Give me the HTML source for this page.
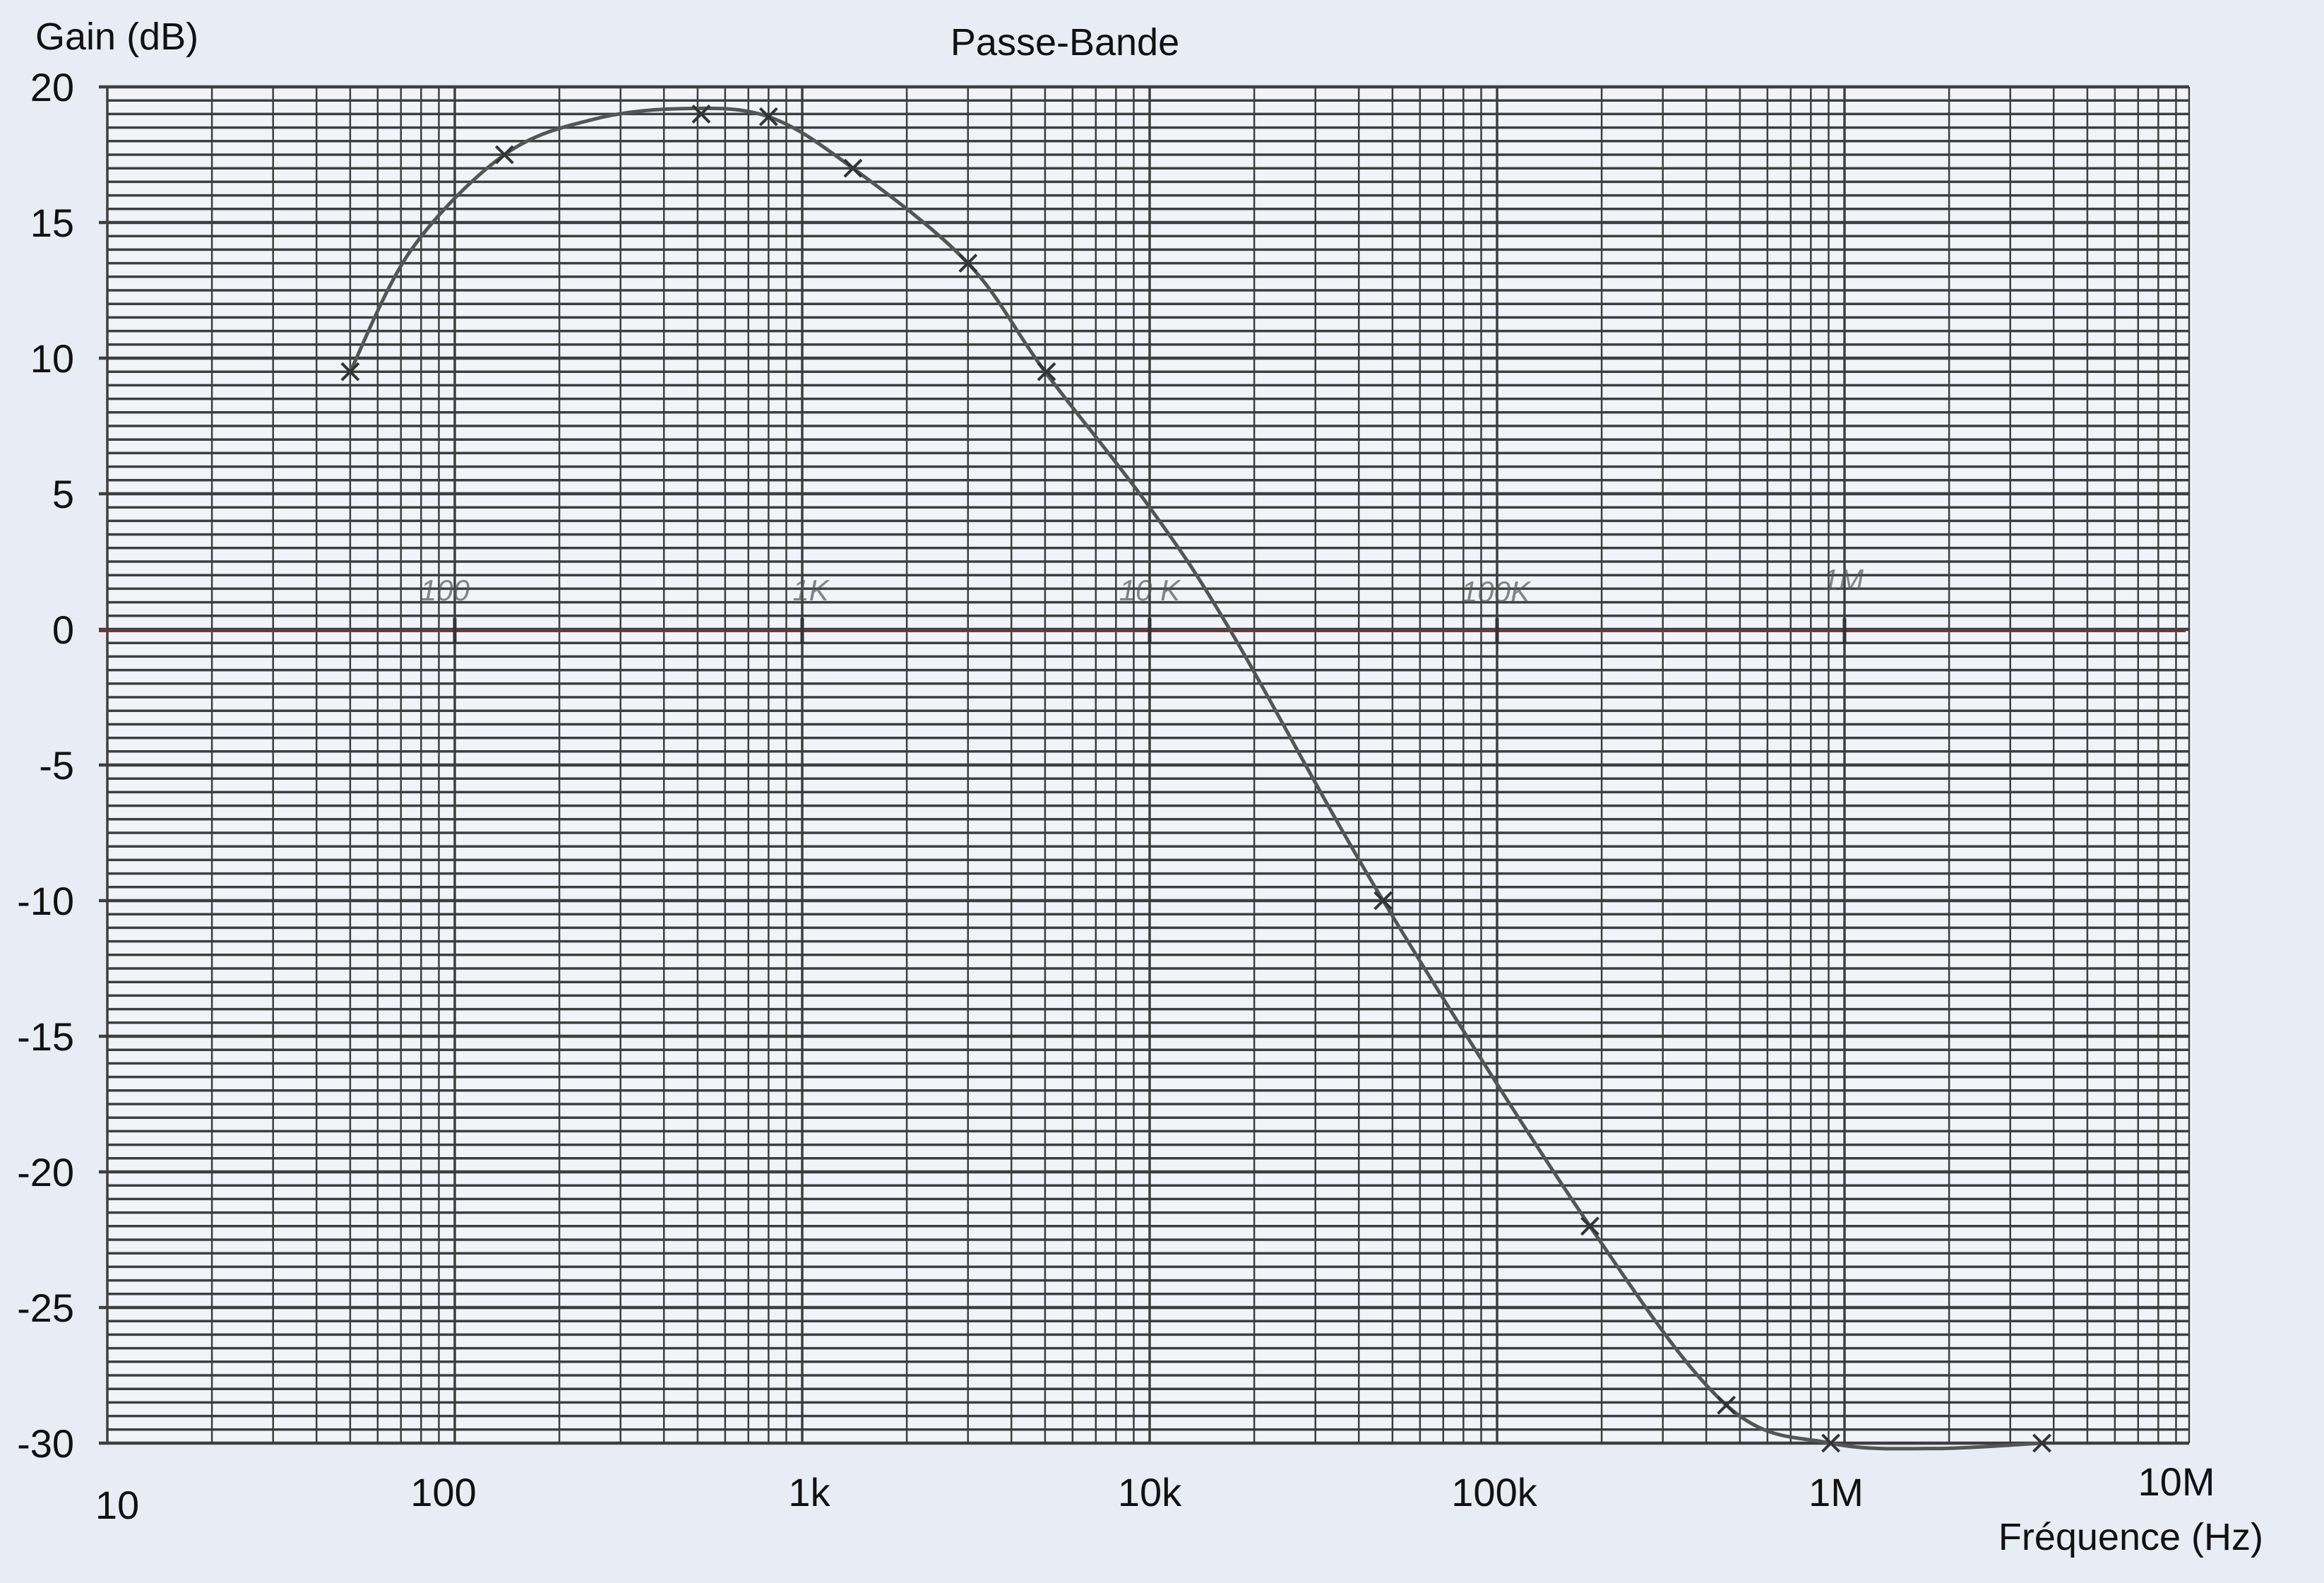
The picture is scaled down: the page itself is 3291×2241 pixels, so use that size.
<!DOCTYPE html>
<html><head><meta charset="utf-8"><style>
html,body{margin:0;padding:0;background:#e8ecf5;}
svg{display:block}
text{font-family:"Liberation Sans",sans-serif;fill:#111}
</style></head><body>
<svg id="s" width="3291" height="2241" xmlns="http://www.w3.org/2000/svg">
<rect x="0" y="0" width="3291" height="2241" fill="#e8ecf5"/>
<rect x="152" y="123" width="2952" height="1920" fill="#f1f3f8"/>
<g id="grid" stroke="#3e3e3e"></g>
<line x1="140" y1="893" x2="3095" y2="893" stroke="#6a3a3a" stroke-width="4"/>
<g font-size="56" text-anchor="end">
<text x="105" y="143">20</text><text x="105" y="335">15</text><text x="105" y="527">10</text>
<text x="105" y="719">5</text><text x="105" y="911">0</text><text x="105" y="1103">-5</text>
<text x="105" y="1295">-10</text><text x="105" y="1487">-15</text><text x="105" y="1679">-20</text>
<text x="105" y="1871">-25</text><text x="105" y="2063">-30</text>
</g>
<text x="50" y="70" font-size="54">Gain (dB)</text>
<text x="1508" y="78" font-size="54" text-anchor="middle">Passe-Bande</text>
<g font-size="56" text-anchor="middle">
<text x="166" y="2150">10</text><text x="628" y="2132">100</text><text x="1146" y="2132">1k</text>
<text x="1628" y="2132">10k</text><text x="2116" y="2132">100k</text><text x="2600" y="2132">1M</text>
<text x="3082" y="2117">10M</text>
</g>
<text x="3205" y="2194" font-size="54" text-anchor="end">Fréquence (Hz)</text>
<g font-size="42" font-style="italic" text-anchor="middle" opacity="0.7">
<text x="630" y="850" style="fill:#555">100</text><text x="1148" y="850" style="fill:#555">1K</text>
<text x="1628" y="850" style="fill:#555">10 K</text><text x="2118" y="852" style="fill:#555">100K</text>
<text x="2610" y="835" style="fill:#555">1M</text>
</g>
<g id="ticks" stroke="#333" stroke-width="5"></g>
<path id="curve" fill="none" stroke="#555" stroke-width="5"/>
<g id="marks" stroke="#333" stroke-width="4"></g>
</svg>
<script>
var NS="http://www.w3.org/2000/svg";
var X0=152,DEC=492,Y0=123,DBP=38.4;
function X(f){return X0+Math.log10(f/10)*DEC;}
function Y(d){return Y0+(20-d)*DBP;}
function ln(g,x1,y1,x2,y2,w){var l=document.createElementNS(NS,"line");l.setAttribute("x1",x1);l.setAttribute("y1",y1);l.setAttribute("x2",x2);l.setAttribute("y2",y2);l.setAttribute("stroke-width",w);g.appendChild(l);}
var g=document.getElementById("grid");
for(var i=0;i<=100;i++){var y=Y0+i*DBP/2;var major=(i%10==0);ln(g,major?140:X0,y,3100,y,major?4.5:3.5);}
for(var d=0;d<6;d++){for(var k=1;k<10;k++){var f=10*Math.pow(10,d)*k;ln(g,X(f),Y0,X(f),2043,k==1?3.5:2.5);}}
ln(g,3100,Y0,3100,2043,2.5);
var t=document.getElementById("ticks");
[100,1000,1e4,1e5,1e6].forEach(function(f){ln(t,X(f),875,X(f),911,5);});
var P=[[50,9.5],[75,14],[139,17.5],[250,18.8],[450,19.2],[800,18.9],[1400,17],[3000,13.5],[5000,9.5],[10000,4.5],[17000,0],[47000,-10],[185000,-22],[457000,-28.6],[913000,-30],[1.8e6,-30.2],[3.7e6,-30]];
var pts=P.map(function(p){return [X(p[0]),Y(p[1])];});
var dstr="M"+pts[0][0]+","+pts[0][1];
for(var i=0;i<pts.length-1;i++){var p0=pts[Math.max(0,i-1)],p1=pts[i],p2=pts[i+1],p3=pts[Math.min(pts.length-1,i+2)];
dstr+=" C"+(p1[0]+(p2[0]-p0[0])/6)+","+(p1[1]+(p2[1]-p0[1])/6)+" "+(p2[0]-(p3[0]-p1[0])/6)+","+(p2[1]-(p3[1]-p1[1])/6)+" "+p2[0]+","+p2[1];}
document.getElementById("curve").setAttribute("d",dstr);
var m=document.getElementById("marks");
[[50,9.5],[139,17.5],[512,19],[800,18.9],[1400,17],[3000,13.5],[5050,9.5],[47000,-10],[185000,-22],[457000,-28.6],[913000,-30],[3.7e6,-30]].forEach(function(p){var x=X(p[0]),y=Y(p[1]);ln(m,x-12,y-12,x+12,y+12,4);ln(m,x-12,y+12,x+12,y-12,4);});
</script>
</body></html>
